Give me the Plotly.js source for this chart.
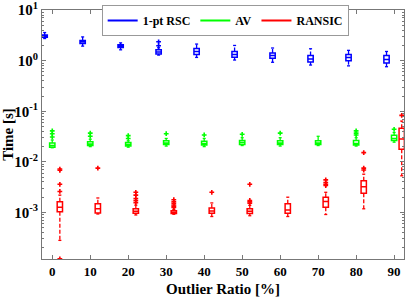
<!DOCTYPE html>
<html>
<head>
<meta charset="utf-8">
<script src="https://cdn.plot.ly/plotly-3.0.1.min.js"></script>
<style>html,body{margin:0;padding:0;background:#fff;}#chart{width:407px;height:297px;}</style>
</head>
<body>
<div id="chart"></div>
<script>
// ---- data ----
const categories = [0, 10, 20, 30, 40, 50, 60, 70, 80, 90];
const seriesNames = ['1-pt RSC', 'AV', 'RANSIC'];

// 1-pt RSC
const rscLow = [2.74, 1.94, 1.64, 1.29, 1.16, 1.03, 0.93, 0.82, 0.79, 0.76];
const rscQ1  = [2.92, 2.18, 1.82, 1.36, 1.32, 1.17, 1.12, 0.94, 1.00, 0.90];
const rscMed = [3.07, 2.36, 1.94, 1.48, 1.52, 1.33, 1.26, 1.08, 1.15, 1.06];
const rscQ3  = [3.22, 2.52, 2.06, 1.65, 1.75, 1.52, 1.42, 1.27, 1.33, 1.26];
const rscHigh= [3.60, 2.95, 2.25, 1.80, 2.13, 2.00, 1.78, 1.72, 1.60, 1.52];
const rscOut = [[], [], [], [1.97, 2.36], [], [], [], [], [], []];

// AV
const avLow = [0.0190, 0.0200, 0.0195, 0.0205, 0.0200, 0.0210, 0.0205, 0.0210, 0.0205, 0.0245];
const avQ1  = [0.0195, 0.0210, 0.0205, 0.0220, 0.0215, 0.0220, 0.0220, 0.0220, 0.0215, 0.0265];
const avMed = [0.0210, 0.0225, 0.0220, 0.0235, 0.0230, 0.0240, 0.0235, 0.0235, 0.0230, 0.0290];
const avQ3  = [0.0235, 0.0250, 0.0240, 0.0260, 0.0255, 0.0265, 0.0260, 0.0260, 0.0265, 0.0335];
const avHigh= [0.0270, 0.0280, 0.0260, 0.0290, 0.0290, 0.0300, 0.0300, 0.0320, 0.0300, 0.0380];
const avOut = [[0.031, 0.036, 0.041], [0.032, 0.037], [0.029, 0.033], [0.036], [0.034],
               [0.035], [0.037], [], [0.034, 0.037, 0.041], [0.044]];

// RANSIC
const raLow = [0.00028, 0.00093, 0.00089, 0.00092, 0.00083, 0.00086, 0.00083, 0.00091, 0.00118, 0.0053];
const raQ1  = [0.00103, 0.00097, 0.00096, 0.00095, 0.00096, 0.00095, 0.00096, 0.00127, 0.00239, 0.0178];
const raMed = [0.00127, 0.00118, 0.00105, 0.00100, 0.00107, 0.00105, 0.00112, 0.00165, 0.00323, 0.0283];
const raQ3  = [0.00163, 0.00148, 0.00118, 0.00108, 0.00123, 0.00118, 0.00148, 0.00200, 0.00425, 0.046];
const raHigh= [0.00220, 0.00193, 0.00139, 0.00115, 0.00154, 0.00138, 0.00200, 0.00250, 0.00570, 0.064];
const raOut = [[0.000121, 0.0026, 0.0036, 0.0068, 0.0072], [0.0075],
               [0.00155, 0.0017, 0.00187, 0.0022, 0.0025],
               [0.00125, 0.00132, 0.0014, 0.00152, 0.00163, 0.00178],
               [0.0025], [0.00152, 0.00162, 0.00172, 0.0036], [],
               [0.0034, 0.0036, 0.0039, 0.0044], [0.0069, 0.0075, 0.0152], [0.083]];

const yTickVals = [0.001, 0.01, 0.1, 1, 10];
const yTickText = ['10<sup>-3</sup>', '10<sup>-2</sup>', '10<sup>-1</sup>', '10<sup>0</sup>', '10<sup>1</sup>'];

// ---- build ----
const colors = ['#0000FF', '#00FF00', '#FF0000'];
const offsets = [-2, 0, 2];
const capHalf = 0.4;
const stats = [
  [rscLow, rscQ1, rscMed, rscQ3, rscHigh, rscOut],
  [avLow, avQ1, avMed, avQ3, avHigh, avOut],
  [raLow, raQ1, raMed, raQ3, raHigh, raOut]
];

const traces = [];
stats.forEach((s, i) => {
  const xs = categories.map(c => c + offsets[i]);
  // dashed whiskers
  const wx = [], wy = [], cx = [], cy = [];
  xs.forEach((x, k) => {
    wx.push(x, x, null, x, x, null);
    wy.push(s[3][k], s[4][k], null, s[1][k], s[0][k], null);
    cx.push(x - capHalf, x + capHalf, null, x - capHalf, x + capHalf, null);
    cy.push(s[4][k], s[4][k], null, s[0][k], s[0][k], null);
  });
  traces.push({type: 'scatter', mode: 'lines', x: wx, y: wy, showlegend: false, hoverinfo: 'skip',
    line: {color: colors[i], width: 1.3, dash: '4px,2px'}});
  traces.push({type: 'scatter', mode: 'lines', x: cx, y: cy, showlegend: false, hoverinfo: 'skip',
    line: {color: colors[i], width: 1.3}});
  // boxes (whiskers drawn above)
  traces.push({
    type: 'box', x: xs, lowerfence: s[1], q1: s[1], median: s[2], q3: s[3], upperfence: s[3],
    width: 1.4, whiskerwidth: 0, boxpoints: false, showlegend: false,
    line: {color: colors[i], width: 1.5}, fillcolor: 'rgba(255,255,255,0)', hoverinfo: 'skip'
  });
  const ox = [], oy = [];
  s[5].forEach((arr, k) => arr.forEach(v => { ox.push(xs[k]); oy.push(v); }));
  traces.push({
    type: 'scatter', mode: 'markers', x: ox, y: oy, showlegend: false,
    marker: {symbol: 'cross', size: 4, color: colors[i]}, hoverinfo: 'skip'
  });
});
seriesNames.forEach((n, i) => traces.push({
  type: 'scatter', mode: 'lines', x: [null], y: [null], name: n,
  line: {color: colors[i], width: 2}
}));

// minor log ticks
const minorVals = [];
for (let e = -4; e <= 0; e++) for (let d = 2; d <= 9; d++) minorVals.push(d * Math.pow(10, e));

const layout = {
  width: 407, height: 297,
  margin: {l: 42, r: 3, t: 10, b: 38},
  paper_bgcolor: '#fff', plot_bgcolor: '#fff',
  font: {family: 'Liberation Serif', size: 13, color: '#000', weight: 'bold'},
  boxmode: 'overlay',
  showlegend: true,
  legend: {
    orientation: 'h', x: 0.506, xanchor: 'center', y: 0.958, yanchor: 'middle',
    bgcolor: '#fff', bordercolor: '#999', borderwidth: 1,
    font: {family: 'Liberation Serif', size: 12, color: '#000', weight: 'bold'},
    itemwidth: 30, tracegroupgap: 0
  },
  xaxis: {
    range: [-2.7, 92.6], tickmode: 'array', tickvals: categories,
    ticks: 'inside', ticklen: 4, tickcolor: '#777', mirror: 'ticks',
    showline: true, linecolor: '#777', linewidth: 1, showgrid: false, zeroline: false,
    title: {text: 'Outlier Ratio [%]', font: {size: 15, weight: 'bold'}, standoff: 6}
  },
  yaxis: {
    type: 'log', range: [Math.log10(1.2e-4), 1.002],
    tickmode: 'array', tickvals: yTickVals, ticktext: yTickText,
    tickfont: {size: 15}, ticklabeloverflow: 'allow',
    ticks: 'inside', ticklen: 4, tickcolor: '#777', mirror: 'ticks',
    minor: {tickmode: 'array', tickvals: minorVals, ticks: 'inside', ticklen: 2, tickcolor: '#777', showgrid: false},
    showline: true, linecolor: '#777', linewidth: 1, showgrid: false, zeroline: false,
    title: {text: 'Time [s]', font: {size: 15, weight: 'bold'}, standoff: 2}
  }
};

Plotly.newPlot('chart', traces, layout, {displayModeBar: false, staticPlot: true});
</script>
</body>
</html>
